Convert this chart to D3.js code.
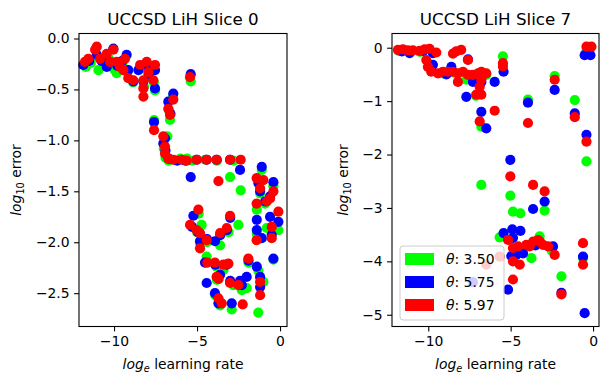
<!DOCTYPE html>
<html>
<head>
<meta charset="utf-8">
<script src="https://cdn.jsdelivr.net/npm/d3@7"></script>
<style>
  body { margin: 0; background: #fff; }
  svg { display: block; font-family: "DejaVu Sans", sans-serif; }
</style>
</head>
<body>
<div id="chart"></div>
<script>
// log_e learning rate vs log10 error, one [x, y] list per theta and slice
const slice0Green = [
  [-11.7,-0.28],[-11.4,-0.24],[-10.94,-0.31],[-10.6,-0.25],[-10.3,-0.2],[-10.0,-0.3],[-9.84,-0.34],[-9.5,-0.25],
  [-9.2,-0.33],[-8.85,-0.43],[-8.45,-0.3],[-8.1,-0.27],[-7.95,-0.37],[-7.6,-0.3],[-7.6,-0.43],[-7.53,-0.51],[-8.2,-0.47],
  [-5.38,-0.42],[-6.45,-0.57],[-6.7,-0.7],[-6.63,-0.8],[-7.59,-0.8],[-6.79,-0.96],[-7.0,-1.08],[-6.9,-1.17],[-6.7,-1.2],
  [-6.0,-1.18],[-5.6,-1.18],[-5.3,-1.2],[-4.5,-1.19],[-3.8,-1.2],[-3.01,-1.36],[-2.8,-1.2],[-2.37,-1.49],
  [-1.1,-1.29],[-1.4,-1.68],[-0.4,-1.45],[-1.2,-1.52],[-0.9,-1.62],[-0.1,-1.88],[-0.8,-1.86],[-1.4,-1.92],[-0.5,-1.9],
  [-0.4,-2.17],[-1.0,-2.39],[-1.31,-2.69],[-1.3,-2.28],
  [-4.72,-1.83],[-5.0,-1.9],[-4.9,-1.72],[-4.8,-2.02],[-4.4,-2.0],[-3.61,-2.03],[-2.51,-1.83],[-4.42,-2.14],[-3.82,-2.24],
  [-3.4,-2.27],[-3.8,-2.37],[-2.81,-2.42],[-2.91,-2.66],[-2.0,-2.45],[-2.3,-2.47],[-3.6,-2.62],[-3.9,-2.52],[-3.1,-1.9],[-1.9,-2.2]
];
const slice0Blue = [
  [-11.85,-0.26],[-11.5,-0.22],[-11.04,-0.16],[-10.75,-0.22],[-10.44,-0.28],[-10.04,-0.1],[-9.8,-0.27],[-9.5,-0.22],
  [-9.24,-0.16],[-9.14,-0.31],[-8.84,-0.42],[-8.53,-0.31],[-8.03,-0.26],[-8.23,-0.42],[-7.53,-0.31],[-7.53,-0.49],[-7.9,-0.35],
  [-5.38,-0.35],[-6.43,-0.54],[-6.73,-0.62],[-6.6,-0.74],[-7.59,-0.82],[-6.93,-0.98],[-7.03,-1.03],[-6.9,-1.1],[-6.7,-1.18],
  [-6.2,-1.2],[-5.7,-1.2],[-5.02,-1.19],[-4.42,-1.19],[-3.82,-1.19],[-3.01,-1.19],[-5.38,-1.36],[-2.41,-1.29],
  [-1.1,-1.26],[-0.4,-1.41],[-0.6,-1.55],[-1.3,-1.42],[-0.9,-1.6],[-1.4,-1.78],[-1.4,-1.88],[-0.6,-1.75],[-0.1,-1.8],
  [-1.1,-1.96],[-0.5,-1.93],[-0.4,-2.16],[-1.4,-2.24],[-1.2,-2.34],[-1.2,-2.44],[-1.2,-1.5],
  [-5.22,-1.74],[-5.3,-1.85],[-4.95,-1.9],[-4.82,-1.99],[-3.92,-1.99],[-4.4,-1.97],[-3.6,-1.93],[-3.2,-1.88],[-3.0,-1.76],
  [-4.52,-2.2],[-3.21,-2.22],[-3.61,-2.32],[-4.42,-2.4],[-3.92,-2.5],[-3.71,-2.6],[-2.91,-2.6],[-2.41,-2.38],[-2.01,-2.34],
  [-3.9,-2.22],[-3.0,-2.38],[-1.9,-2.18],[-2.3,-2.42]
];
const slice0Red = [
  [-11.75,-0.23],[-11.55,-0.2],[-11.14,-0.11],[-11.04,-0.08],[-10.84,-0.2],[-10.44,-0.15],[-10.24,-0.23],[-10.04,-0.11],
  [-9.84,-0.23],[-9.64,-0.28],[-9.34,-0.2],[-9.44,-0.31],[-9.14,-0.39],[-8.84,-0.41],[-8.43,-0.26],[-8.03,-0.23],
  [-8.23,-0.41],[-7.93,-0.33],[-7.53,-0.26],[-7.63,-0.41],[-8.23,-0.49],[-8.23,-0.57],
  [-5.42,-0.38],[-6.43,-0.6],[-6.73,-0.69],[-6.63,-0.75],[-7.59,-0.9],[-7.03,-0.96],[-6.93,-1.06],[-6.93,-1.13],[-6.73,-1.18],
  [-6.43,-1.19],[-5.92,-1.19],[-5.62,-1.2],[-5.02,-1.19],[-4.42,-1.19],[-3.82,-1.19],[-3.01,-1.19],[-2.37,-1.19],[-3.71,-1.4],
  [-1.41,-1.37],[-1.0,-1.39],[-1.2,-1.47],[-0.4,-1.5],[-0.8,-1.6],[-1.41,-1.62],[-0.1,-1.7],[-0.5,-1.85],[-1.41,-1.98],
  [-0.5,-1.96],[-1.2,-2.39],[-1.2,-2.52],[-0.6,-1.57],
  [-4.92,-1.68],[-5.42,-1.83],[-5.02,-1.88],[-4.82,-1.91],[-4.82,-2.06],[-4.42,-1.98],[-3.61,-1.91],[-3.21,-1.86],[-3.01,-1.74],
  [-1.91,-2.16],[-4.38,-2.2],[-3.92,-2.2],[-3.41,-2.22],[-3.11,-2.21],[-3.82,-2.34],[-3.71,-2.55],[-3.51,-2.6],[-3.01,-2.4],
  [-2.51,-2.42],[-2.25,-2.61],[-3.7,-2.36]
];

const slice7Green = [
  [-11.8,-0.06],[-11.2,-0.07],[-10.5,-0.08],[-9.82,-0.42],[-9.11,-0.48],[-8.4,-0.47],[-7.69,-0.6],[-6.78,-0.51],[-6.48,-0.51],
  [-6.78,-1.48],[-5.47,-0.16],[-3.95,-0.97],[-2.33,-0.53],[-1.11,-0.98],[-0.4,-0.07],[-0.4,-2.13],[-7.1,-0.9],
  [-6.78,-2.57],[-5.02,-2.77],[-4.86,-3.07],[-4.41,-3.1],[-2.94,-3.05],[-5.67,-3.55],[-3.74,-3.94],[-1.92,-4.28],
  [-0.61,-3.94],[-3.24,-3.53],[-4.6,-3.75],[-4.0,-3.7],[-2.5,-3.8]
];
const slice7Blue = [
  [-11.6,-0.07],[-11.13,-0.1],[-10.3,-0.06],[-9.72,-0.1],[-9.72,-0.32],[-8.6,-0.36],[-7.59,-0.22],[-7.69,-0.92],[-7.29,-0.64],
  [-6.78,-0.64],[-6.78,-1.2],[-6.48,-1.51],[-5.97,-0.64],[-5.43,-0.45],[-3.95,-1.03],[-2.33,-0.79],[-1.11,-1.23],
  [-0.51,-0.14],[-0.16,-0.14],[-0.4,-1.63],[-8.9,-0.5],
  [-5.02,-2.1],[-3.64,-3.02],[-2.94,-2.88],[-5.43,-3.47],[-4.9,-3.4],[-4.41,-3.43],[-4.86,-3.56],[-4.66,-3.88],[-4.25,-3.85],
  [-2.43,-3.72],[-1.92,-4.59],[-0.61,-3.91],[-0.51,-4.97],[-5.16,-4.53],[-7.29,-4.39],[-4.96,-3.9],[-3.5,-3.7]
];
const slice7Red = [
  [-11.84,-0.04],[-11.54,-0.03],[-11.24,-0.05],[-10.93,-0.05],[-10.53,-0.06],[-10.22,-0.03],[-9.92,-0.02],[-9.51,-0.09],
  [-10.12,-0.23],[-10.02,-0.36],[-9.82,-0.45],[-9.41,-0.48],[-9.11,-0.45],[-8.81,-0.45],[-8.5,-0.45],[-8.2,-0.48],
  [-7.89,-0.45],[-7.59,-0.51],[-7.29,-0.51],[-6.98,-0.48],[-6.78,-0.45],[-8.5,-0.11],[-8.3,-0.07],[-8.0,-0.04],
  [-7.59,-0.23],[-8.2,-0.64],[-7.09,-0.88],[-6.78,-0.88],[-6.88,-0.73],[-6.78,-0.6],[-6.48,-0.48],[-5.97,-1.18],
  [-6.88,-1.38],[-5.47,-0.29],[-5.47,-0.35],[-3.95,-1.41],[-2.33,-0.6],[-1.11,-1.3],[-0.4,0.02],[-0.1,0.02],[-0.4,-1.76],
  [-5.02,-2.41],[-3.64,-2.57],[-2.94,-2.69],[-5.16,-3.6],[-4.86,-3.75],[-4.55,-3.72],[-4.05,-3.69],[-3.64,-3.63],
  [-3.34,-3.6],[-3.04,-3.69],[-2.73,-3.72],[-2.33,-3.88],[-4.86,-4.0],[-4.45,-4.06],[-4.86,-4.34],[-1.92,-4.62],
  [-0.61,-3.66],[-0.61,-4.06],[-6.48,-4.06],[-5.67,-3.91],[-3.85,-3.72],[-3.2,-3.64]
];

const xTickValues = [-10, -5, 0];
const slice0YTicks = [0, -0.5, -1, -1.5, -2, -2.5];
const slice7YTicks = [0, -1, -2, -3, -4, -5];
const thetas = ["3.50", "5.75", "5.97"];

const colors = ["#00ff00", "#0000ff", "#ff0000"];
const width = 600, height = 377;

const panels = [
  { title: "UCCSD LiH Slice 0", box: [79, 287, 33.5, 326.5], xDomain: [-12.11, 0.42], yDomain: [-2.827, 0.049],
    yTicks: slice0YTicks, yFormat: d3.format(".1f"), series: [slice0Green, slice0Blue, slice0Red], ylabelX: 20.5 },
  { title: "UCCSD LiH Slice 7", box: [392, 599, 33.5, 326.5], xDomain: [-12.2, 0.36], yDomain: [-5.22, 0.266],
    yTicks: slice7YTicks, yFormat: d3.format("d"), series: [slice7Green, slice7Blue, slice7Red], ylabelX: 348, legend: true }
];

const svg = d3.select("#chart").append("svg")
  .attr("width", width)
  .attr("height", height);

svg.append("rect").attr("width", width).attr("height", height).attr("fill", "#fff");

panels.forEach(p => {
  const [l, r, t, b] = p.box;
  const x = d3.scaleLinear().domain(p.xDomain).range([l, r]);
  const y = d3.scaleLinear().domain(p.yDomain).range([b, t]);

  // points: green, then blue, then red on top
  p.series.forEach((pts, i) => {
    svg.append("g").selectAll("circle")
      .data(pts)
      .enter()
      .append("circle")
      .attr("cx", d => x(d[0]))
      .attr("cy", d => y(d[1]))
      .attr("r", 5.1)
      .attr("fill", colors[i]);
  });

  const xAxis = svg.append("g")
    .attr("transform", `translate(0, ${b})`)
    .call(d3.axisBottom(x).tickValues(xTickValues).tickSize(4.9).tickPadding(4.5).tickFormat(d3.format("d")));
  const yAxis = svg.append("g")
    .attr("transform", `translate(${l}, 0)`)
    .call(d3.axisLeft(y).tickValues(p.yTicks).tickSize(4.9).tickPadding(4.5).tickFormat(p.yFormat));

  [xAxis, yAxis].forEach(a => {
    a.select(".domain").remove();
    a.selectAll(".tick line").attr("stroke", "#000").attr("stroke-width", 1.1);
    a.selectAll(".tick text").attr("fill", "#000").attr("font-size", 13.9)
      .attr("font-family", "DejaVu Sans, sans-serif");
  });

  // frame
  svg.append("rect")
    .attr("x", l).attr("y", t)
    .attr("width", r - l).attr("height", b - t)
    .attr("fill", "none").attr("stroke", "#000").attr("stroke-width", 1.1);

  svg.append("text")
    .attr("x", (l + r) / 2).attr("y", 25)
    .attr("text-anchor", "middle")
    .attr("font-size", 16.7)
    .text(p.title);

  // x label: log_e learning rate
  const xl = svg.append("text")
    .attr("x", (l + r) / 2).attr("y", 369)
    .attr("text-anchor", "middle")
    .attr("font-size", 13.9);
  xl.append("tspan").attr("font-style", "italic").text("log");
  xl.append("tspan").attr("font-style", "italic").attr("font-size", 9.7).attr("dy", 3).text("e");
  xl.append("tspan").attr("dy", -3).text(" learning rate");

  // y label: log_10 error
  const yl = svg.append("text")
    .attr("transform", `translate(${p.ylabelX}, ${(t + b) / 2}) rotate(-90)`)
    .attr("text-anchor", "middle")
    .attr("font-size", 13.9);
  yl.append("tspan").attr("font-style", "italic").text("log");
  yl.append("tspan").attr("font-size", 9.7).attr("dy", 3).text("10");
  yl.append("tspan").attr("dy", -3).text(" error");

  if (p.legend) {
    const lg = svg.append("g");
    lg.append("rect")
      .attr("x", 400).attr("y", 246)
      .attr("width", 104).attr("height", 74)
      .attr("rx", 3)
      .attr("fill", "#fff").attr("fill-opacity", 0.8)
      .attr("stroke", "#cccccc").attr("stroke-width", 1);
    thetas.forEach((th, i) => {
      const cy = 259 + i * 23;
      lg.append("rect")
        .attr("x", 405).attr("y", cy - 6)
        .attr("width", 29).attr("height", 12)
        .attr("fill", colors[i]);
      const tx = lg.append("text")
        .attr("x", 446).attr("y", cy + 5)
        .attr("font-size", 13.9);
      tx.append("tspan").attr("font-style", "italic").text("θ");
      tx.append("tspan").text(": " + th);
    });
  }
});
</script>
</body>
</html>
